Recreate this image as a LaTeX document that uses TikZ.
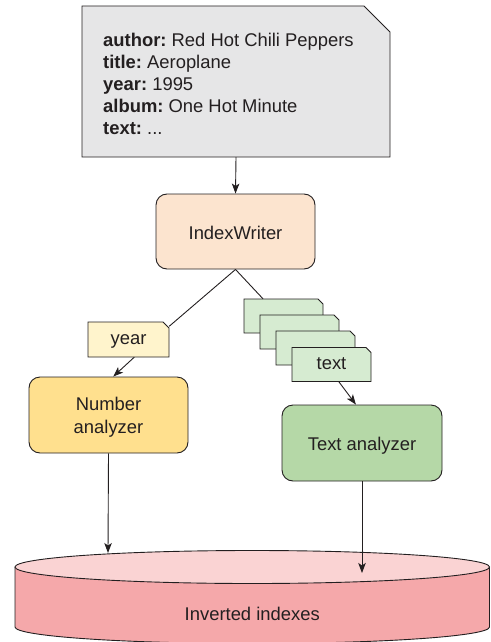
\documentclass[tikz,border=0pt]{standalone}
\usepackage{fontspec}
\setmainfont{Liberation Sans}
\usetikzlibrary{arrows.meta,calc}

\definecolor{ink}{HTML}{231F20}
\definecolor{docgray}{HTML}{E6E6E7}
\definecolor{writerfill}{HTML}{FCE4CF}
\definecolor{yeartag}{HTML}{FFF4CC}
\definecolor{texttag}{HTML}{D6EBD1}
\definecolor{numfill}{HTML}{FFE08E}
\definecolor{txtfill}{HTML}{B5D8A7}
\definecolor{cylbody}{HTML}{F5A8AA}
\definecolor{cyltop}{HTML}{FAD3D3}

\tikzset{
  lbl/.style={font=\fontsize{18.4}{22}\selectfont\frenchspacing, text=ink},
  procbox/.style={lbl, draw=ink, line width=0.9pt, rounded corners=11pt,
    inner sep=0pt, align=center},
  oneline/.style={text height=15pt, text depth=0pt},
  link/.style={draw=ink, line width=0.9pt},
  arr/.style={link, -{Stealth[length=10pt,width=7.5pt,inset=2.5pt]}}
}

% box with its top right corner cut off:
% #1 name, #2 x, #3 y (centre), #4 width, #5 height, #6 cut, #7 fill, #8 text
\newcommand\cutcornerbox[8]{%
  \filldraw[link, fill=#7]
    (#2-#4/2, #3-#5/2) -- (#2-#4/2, #3+#5/2) -- (#2+#4/2-#6, #3+#5/2)
    -- (#2+#4/2, #3+#5/2-#6) -- (#2+#4/2, #3-#5/2) -- cycle;
  \node[lbl, minimum width=#4pt, minimum height=#5pt, inner sep=0pt,
        text height=10pt, text depth=0pt] (#1) at (#2,#3) {#8};%
}

\begin{document}
\begin{tikzpicture}[x=1pt,y=1pt]
\useasboundingbox (0,0) rectangle (490,-642);

% input document
\cutcornerbox{doc}{236}{-81.5}{308}{151}{26}{docgray}{}
\node[lbl, align=left, anchor=north west, inner sep=0pt] (doctext) at (103,-32.8)
  {\textbf{author:} Red Hot Chili Peppers\\
   \textbf{title:} Aeroplane\\
   \textbf{year:} 1995\\
   \textbf{album:} One Hot Minute\\
   \textbf{text:} ...};

% index writer
\node[procbox, oneline, fill=writerfill, minimum width=159pt, minimum height=75pt]
  (iw) at (235.5,-231.5) {IndexWriter};

% field tags
\cutcornerbox{year}{128.5}{-339.5}{81}{35}{6}{yeartag}{year}
\cutcornerbox{g1}{283.5}{-316}{79}{34}{5}{texttag}{}
\cutcornerbox{g2}{299.5}{-332}{79}{34}{5}{texttag}{}
\cutcornerbox{g3}{315.5}{-348}{79}{34}{5}{texttag}{}
\cutcornerbox{g4}{331.5}{-364.5}{79}{34}{5}{texttag}{text}

% analyzers
\node[procbox, fill=numfill, minimum width=159pt, minimum height=76pt,
      text depth=0pt, font=\fontsize{18.4}{23}\selectfont]
  (num) at (108.5,-415) {Number\\analyzer};
\node[procbox, oneline, fill=txtfill, minimum width=160pt, minimum height=76pt]
  (txt) at (362,-443) {Text analyzer};

% inverted index store
\path[fill=cylbody] (15,-567) -- (15,-627)
  arc[start angle=180, end angle=360, x radius=237.25pt, y radius=16.5pt]
  -- (489.5,-567) -- cycle;
\draw[link] (15,-567) -- (15,-627)
  arc[start angle=180, end angle=360, x radius=237.25pt, y radius=16.5pt]
  -- (489.5,-567);
\draw[link, fill=cyltop] (252.25,-567) ellipse[x radius=237.25pt, y radius=16.5pt];
\node[lbl, anchor=base] (inv) at (252.25,-620) {Inverted indexes};
\coordinate (idxL) at (108,-553);
\coordinate (idxR) at (362,-573);

% connectors
\draw[arr] (doc.south) -- (iw.north);
\draw[link] (iw.south) -- (year.18);
\draw[link] (iw.south) -- (g1.140);
\draw[arr] (year.-72) -- (num.83);
\draw[arr] (g4.-67) -- (txt.99);
\draw[arr] (num.south) -- (idxL);
\draw[arr] (txt.south) -- (idxR);
\end{tikzpicture}
\end{document}
